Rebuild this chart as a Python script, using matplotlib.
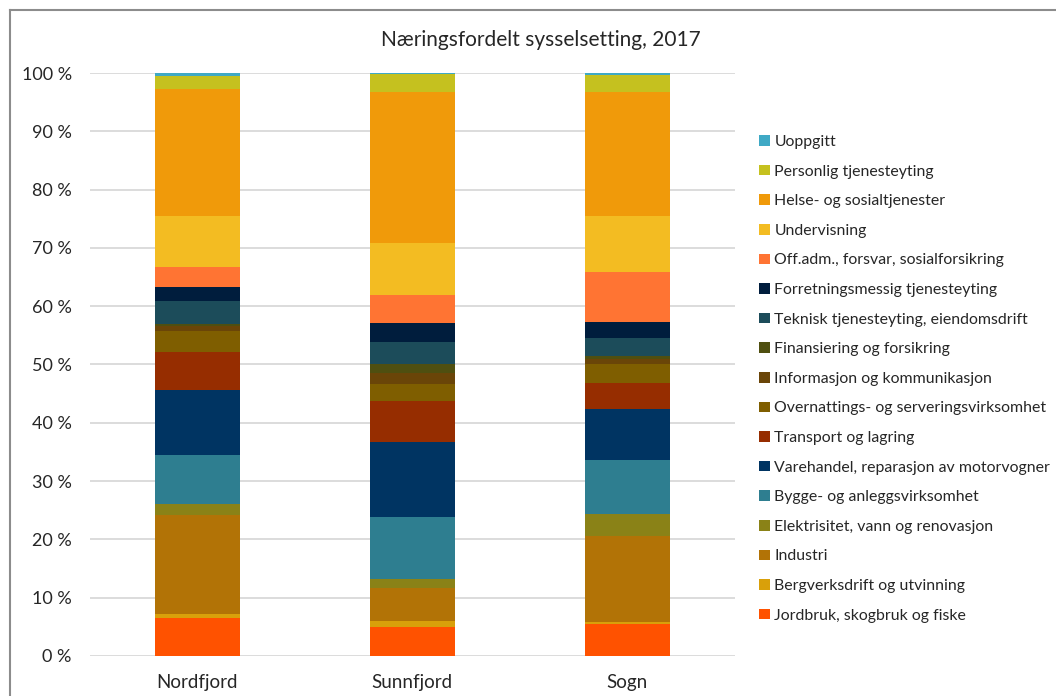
import matplotlib.pyplot as plt
import numpy as np
from matplotlib.lines import Line2D

plt.rcParams['font.family'] = ['Lato', 'DejaVu Sans']

regions = ['Nordfjord', 'Sunnfjord', 'Sogn']

# share of employment (%), bottom to top of each bar
jordbruk = [6.6, 5.0, 5.4]
bergverk = [0.6, 1.0, 0.4]
industri = [17.0, 5.6, 14.8]
elektrisitet = [1.9, 1.6, 3.8]
bygge = [8.4, 10.6, 9.3]
varehandel = [11.2, 12.9, 8.7]
transport = [6.5, 7.1, 4.4]
overnatting = [3.6, 2.9, 3.2]
informasjon = [0.8, 1.8, 1.0]
finansiering = [0.3, 1.5, 0.5]
teknisk = [4.0, 3.9, 3.1]
forretning = [2.4, 3.3, 2.7]
offadm = [3.5, 4.8, 8.6]
undervisning = [8.6, 8.9, 9.5]
helse = [21.8, 25.9, 21.4]
personlig = [2.3, 3.1, 2.8]
uoppgitt = [0.5, 0.1, 0.4]

series = [
    ('Jordbruk, skogbruk og fiske', jordbruk, '#FF5200'),
    ('Bergverksdrift og utvinning', bergverk, '#D9A00A'),
    ('Industri', industri, '#B27306'),
    ('Elektrisitet, vann og renovasjon', elektrisitet, '#8A8217'),
    ('Bygge- og anleggsvirksomhet', bygge, '#2E7E90'),
    ('Varehandel, reparasjon av motorvogner', varehandel, '#003462'),
    ('Transport og lagring', transport, '#962D00'),
    ('Overnattings- og serveringsvirksomhet', overnatting, '#7F5E00'),
    ('Informasjon og kommunikasjon', informasjon, '#6A4508'),
    ('Finansiering og forsikring', finansiering, '#4F4F10'),
    ('Teknisk tjenesteyting, eiendomsdrift', teknisk, '#1C4C5A'),
    ('Forretningsmessig tjenesteyting', forretning, '#001D3D'),
    ('Off.adm., forsvar, sosialforsikring', offadm, '#FF7433'),
    ('Undervisning', undervisning, '#F3BC22'),
    ('Helse- og sosialtjenester', helse, '#F09A0A'),
    ('Personlig tjenesteyting', personlig, '#C5C11F'),
    ('Uoppgitt', uoppgitt, '#3FA9C5'),
]

fig = plt.figure(figsize=(10.56, 6.96), dpi=100)
ax = fig.add_axes([0.085, 0.0575, 0.611, 0.8376])

x = np.arange(len(regions))
bottom = np.zeros(len(regions))
handles = []
for name, vals, col in series:
    b = ax.bar(x, vals, 0.395, bottom=bottom, color=col, label=name, zorder=3)
    bottom += np.array(vals)
    handles.append(b)

ax.set_xlim(-0.5, 2.5)
ax.set_ylim(0, 100)
ax.set_yticks(np.arange(0, 101, 10))
ax.set_yticklabels([f'{v} %' for v in range(0, 101, 10)])
ax.set_xticks(x)
ax.set_xticklabels(regions)
ax.tick_params(length=0, labelsize=13, colors='#262626')
ax.tick_params(axis='y', pad=13)
ax.tick_params(axis='x', pad=13, labelsize=13.5)
ax.grid(axis='y', color='#D9D9D9', lw=1.3, zorder=0)
ax.set_axisbelow(True)
for s in ax.spines.values():
    s.set_visible(False)

fig.text(0.512, 0.943, 'Næringsfordelt sysselsetting, 2017', ha='center', va='center',
         fontsize=15, color='#262626')

fig.legend(handles[::-1], [s[0] for s in series][::-1], loc='upper left',
           bbox_to_anchor=(0.713, 0.815), frameon=False, fontsize=11.4,
           handlelength=0.65, handleheight=0.65, handletextpad=0.3,
           labelspacing=0.985, borderaxespad=0, labelcolor='#262626')

# outer chart frame (cut off at right and bottom)
fw, fh = 1056, 696
fig.add_artist(Line2D([10 / fw, 1], [1 - 10 / fh, 1 - 10 / fh], color='#8C8C8C', lw=1.5))
fig.add_artist(Line2D([10 / fw, 10 / fw], [0, 1 - 10 / fh], color='#8C8C8C', lw=1.5))

fig.savefig('out.png', dpi=100)
